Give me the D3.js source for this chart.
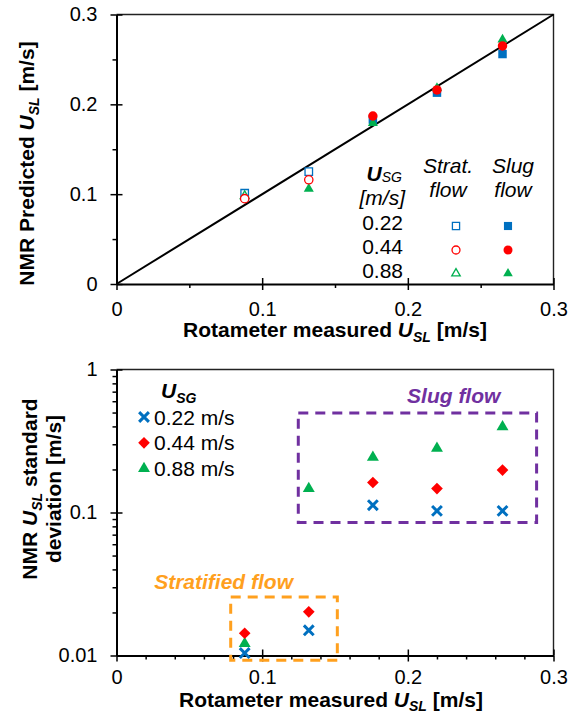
<!DOCTYPE html>
<html>
<head>
<meta charset="utf-8">
<script src="https://cdn.jsdelivr.net/npm/d3@7"></script>
<style>
body { margin: 0; background: #fff; }
text { font-family: "Liberation Sans", Arial, sans-serif; }
</style>
</head>
<body>
<script>

// rotameter measured U_SL [m/s]
var rotameter = [0.088, 0.132, 0.176, 0.22, 0.265];
var usgValues = ["0.22", "0.44", "0.88"];

// NMR predicted U_SL [m/s], one list per U_SG
var predicted022 = [0.101, 0.125, 0.183, 0.213, 0.256];
var predicted044 = [0.095, 0.116, 0.187, 0.216, 0.265];
var predicted088 = [0.098, 0.106, 0.179, 0.218, 0.272];

// flow regime of each point
var regime022 = ["strat", "strat", "slug", "slug", "slug"];
var regime044 = ["strat", "strat", "slug", "slug", "slug"];
var regime088 = ["strat", "slug", "slug", "slug", "slug"];

// NMR U_SL standard deviation [m/s]
var stdev022 = [0.0104, 0.0150, 0.1125, 0.1026, 0.1026];
var stdev044 = [0.0143, 0.0202, 0.162, 0.147, 0.198];
var stdev088 = [0.0121, 0.147, 0.243, 0.281, 0.397];

var xTicks = [0, 0.1, 0.2, 0.3];
var yTicksTop = [0, 0.1, 0.2, 0.3];
var yTicksLog = [0.01, 0.1, 1];

// regime boxes in data units: [x0, x1, yLow, yHigh]
var slugBox = [0.1248, 0.2884, 0.0851, 0.497];
var stratBox = [0.0784, 0.1516, 0.00927, 0.0257];


var width = 574;
var height = 714;

var svg = d3.select("body").append("svg")
			.attr("width", width)
			.attr("height", height);

var x = d3.scaleLinear().domain([0, 0.3]).range([116.5, 553.5]);
var yTop = d3.scaleLinear().domain([0, 0.3]).range([284, 14.5]);
var yBot = d3.scaleLog().domain([0.01, 1]).range([655.5, 369.5]);

var blue = "#0070C0", red = "#FF0000", green = "#00B050";
var purple = "#7030A0", orange = "#FFA01E";

var fmt = function(d){ return String(d); };

var styleAxis = function(g, size){
	g.attr("font-family", null).attr("font-size", null);
	g.select(".domain").attr("stroke", "#000").attr("stroke-width", 2);
	g.selectAll(".tick line").attr("stroke", "#000").attr("stroke-width", 1.5);
	g.selectAll("text").attr("fill", "#000").style("font-size", size + "px");
};

var noDomain = function(g){
	g.attr("font-family", null).attr("font-size", null);
	g.select(".domain").remove();
	g.selectAll(".tick line").attr("stroke", "#000").attr("stroke-width", 1.5);
};

var drawAxes = function(yScale, yMajor, yMinor, xMinor, xPad){
	var y0 = yScale.range()[0], y1 = yScale.range()[1];
	var x0 = x.range()[0], x1 = x.range()[1];

	// frame (top, right)
	svg.append("path")
		.attr("d", "M" + x0 + "," + y1 + "H" + x1 + "V" + y0)
		.attr("fill", "none").attr("stroke", "#222").attr("stroke-width", 1.4);

	svg.append("g").attr("transform", "translate(0," + y0 + ")")
		.call(d3.axisBottom(x).tickValues(xMinor).tickSize(4).tickFormat(""))
		.call(noDomain);
	svg.append("g").attr("transform", "translate(0," + y0 + ")")
		.call(d3.axisTop(x).tickValues(xTicks).tickSize(6).tickFormat(""))
		.call(noDomain);
	svg.append("g").attr("transform", "translate(0," + y0 + ")")
		.call(d3.axisBottom(x).tickValues(xTicks).tickSize(6).tickSizeOuter(0).tickPadding(xPad).tickFormat(fmt))
		.call(styleAxis, 20);

	svg.append("g").attr("transform", "translate(" + x0 + ",0)")
		.call(d3.axisLeft(yScale).tickValues(yMinor).tickSize(4).tickFormat(""))
		.call(noDomain);
	svg.append("g").attr("transform", "translate(" + x0 + ",0)")
		.call(d3.axisRight(yScale).tickValues(yMajor).tickSize(6).tickFormat(""))
		.call(noDomain);
	svg.append("g").attr("transform", "translate(" + x0 + ",0)")
		.call(d3.axisLeft(yScale).tickValues(yMajor).tickSize(6).tickSizeOuter(0).tickPadding(13).tickFormat(fmt))
		.call(styleAxis, 20);
};

// text with a subscript: parts = [[text, bold, italic, sub], ...]
var richText = function(parent, parts, size, anchor, shift){
	shift = shift || 5;
	var t = parent.append("text")
		.attr("text-anchor", anchor)
		.attr("fill", "#000")
		.style("font-size", size + "px");
	var shifted = false;
	parts.forEach(function(p){
		var s = t.append("tspan").text(p[0])
			.attr("font-weight", p[1] ? "bold" : "normal")
			.attr("font-style", p[2] ? "italic" : "normal");
		if (p[3]) {
			s.style("font-size", Math.round(size * 0.68) + "px").attr("dy", shifted ? 0 : shift);
			shifted = true;
		} else {
			if (shifted) s.attr("dy", -shift);
			shifted = false;
		}
	});
	return t;
};

var sym = function(type, size){
	return d3.symbol().type(type).size(size)();
};


// ---------- top chart ----------
var minorLin = [0.05, 0.15, 0.25];
drawAxes(yTop, yTicksTop, minorLin, minorLin, 12);

var identity = [0, 0.3];
svg.append("line")
	.attr("x1", x(identity[0])).attr("y1", yTop(identity[0]))
	.attr("x2", x(identity[1])).attr("y2", yTop(identity[1]))
	.attr("stroke", "#000").attr("stroke-width", 2);

var topSeries = [
	{ values: predicted022, regime: regime022, color: blue, type: d3.symbolSquare, size: 72 },
	{ values: predicted088, regime: regime088, color: green, type: d3.symbolTriangle, size: 44 },
	{ values: predicted044, regime: regime044, color: red, type: d3.symbolCircle, size: 70 }
];

topSeries.forEach(function(s){
	svg.append("g").selectAll("path").data(s.values)
		.enter()
		.append("path")
		.attr("d", function(d, i){ return sym(s.type, s.regime[i] == "slug" ? s.size : s.size * 0.78); })
		.attr("transform", function(d, i){ return "translate(" + x(rotameter[i]) + "," + yTop(d) + ")"; })
		.attr("fill", function(d, i){ return s.regime[i] == "slug" ? s.color : "#fff"; })
		.attr("stroke", function(d, i){ return s.regime[i] == "slug" ? "none" : s.color; })
		.attr("stroke-width", 1.3);
});

// top legend
var leg = svg.append("g");
richText(leg, [["U", true, true, false], ["SG", false, true, true]], 21, "end", 1)
	.attr("x", 402).attr("y", 181);
richText(leg, [["[m/s]", false, true, false]], 21, "end").attr("x", 405).attr("y", 205);
richText(leg, [["Strat.", false, true, false]], 21, "middle").attr("x", 448).attr("y", 173);
richText(leg, [["flow", false, true, false]], 21, "middle").attr("x", 448).attr("y", 197);
richText(leg, [["Slug", false, true, false]], 21, "middle").attr("x", 513).attr("y", 173);
richText(leg, [["flow", false, true, false]], 21, "middle").attr("x", 513).attr("y", 197);

var legRows = [
	{ color: blue, type: d3.symbolSquare, size: 66 },
	{ color: red, type: d3.symbolCircle, size: 64 },
	{ color: green, type: d3.symbolTriangle, size: 40 }
];
var legBase = [230, 254, 277.5];
legRows.forEach(function(r, i){
	richText(leg, [[usgValues[i], false, false, false]], 21, "end").attr("x", 403).attr("y", legBase[i]);
	leg.append("path").attr("d", sym(r.type, r.size * 0.78))
		.attr("transform", "translate(456," + (legBase[i] - 4) + ")")
		.attr("fill", "#fff").attr("stroke", r.color).attr("stroke-width", 1.3);
	leg.append("path").attr("d", sym(r.type, r.size))
		.attr("transform", "translate(508," + (legBase[i] - 4) + ")")
		.attr("fill", r.color);
});

// top axis titles
richText(svg, [["Rotameter measured ", true, false, false], ["U", true, true, false], ["SL", true, true, true], [" [m/s]", true, false, false]], 21, "middle")
	.attr("x", 335).attr("y", 337);
var ty = svg.append("g").attr("transform", "translate(33.5,163.5) rotate(-90)");
richText(ty, [["NMR Predicted ", true, false, false], ["U", true, true, false], ["SL", true, true, true], [" [m/s]", true, false, false]], 21, "middle")
	.attr("x", 0).attr("y", 0);


// ---------- bottom chart ----------
var minorX = d3.range(0.02, 0.3, 0.02).filter(function(v){ return Math.abs(v * 10 - Math.round(v * 10)) > 1e-6; });
var minorLog = [];
[0.01, 0.1].forEach(function(dec){
	for (var k = 2; k <= 9; k++) minorLog.push(k * dec);
});
drawAxes(yBot, yTicksLog, minorLog, minorX, 8);

// regime boxes and labels
var boxes = [
	{ b: slugBox, color: purple, label: "Slug flow", lx: 0.2315, ly: 0.584 },
	{ b: stratBox, color: orange, label: "Stratified flow", lx: 0.0735, ly: 0.029 }
];
boxes.forEach(function(o){
	svg.append("rect")
		.attr("x", x(o.b[0])).attr("y", yBot(o.b[3]))
		.attr("width", x(o.b[1]) - x(o.b[0]))
		.attr("height", yBot(o.b[2]) - yBot(o.b[3]))
		.attr("fill", "none").attr("stroke", o.color)
		.attr("stroke-width", 3).attr("stroke-dasharray", "10,7");
	svg.append("text")
		.attr("x", x(o.lx)).attr("y", yBot(o.ly))
		.attr("text-anchor", "middle")
		.attr("font-weight", "bold").attr("font-style", "italic")
		.attr("fill", o.color)
		.style("font-size", "21px")
		.text(o.label);
});

var botSeries = [
	{ values: stdev088, color: green, type: d3.symbolTriangle, size: 62, rot: 0, stroke: false },
	{ values: stdev044, color: red, type: d3.symbolSquare, size: 68, rot: 45, stroke: false },
	{ values: stdev022, color: blue, type: d3.symbolTimes, size: 64, rot: 0, stroke: true }
];

botSeries.forEach(function(s){
	svg.append("g").selectAll("path").data(s.values)
		.enter()
		.append("path")
		.attr("d", sym(s.type, s.size))
		.attr("transform", function(d, i){ return "translate(" + x(rotameter[i]) + "," + yBot(d) + ") rotate(" + s.rot + ")"; })
		.attr("fill", s.stroke ? "none" : s.color)
		.attr("stroke", s.stroke ? s.color : "none")
		.attr("stroke-width", 3);
});

// bottom legend
var leg2 = svg.append("g");
richText(leg2, [["U", true, true, false], ["SG", true, true, true]], 21, "start").attr("x", 161).attr("y", 398);
var leg2Rows = [botSeries[2], botSeries[1], botSeries[0]];
leg2Rows.forEach(function(s, i){
	var cy = 417 + i * 25.8;
	leg2.append("path").attr("d", sym(s.type, s.size))
		.attr("transform", "translate(144," + cy + ") rotate(" + s.rot + ")")
		.attr("fill", s.stroke ? "none" : s.color)
		.attr("stroke", s.stroke ? s.color : "none")
		.attr("stroke-width", 3);
	richText(leg2, [[usgValues[i] + " m/s", false, false, false]], 21, "start").attr("x", 154).attr("y", cy + 7.5);
});

// bottom axis titles
richText(svg, [["Rotameter measured ", true, false, false], ["U", true, true, false], ["SL", true, true, true], [" [m/s]", true, false, false]], 21, "middle", 4)
	.attr("x", 331).attr("y", 707);
var by = svg.append("g").attr("transform", "translate(37,489) rotate(-90)");
richText(by, [["NMR ", true, false, false], ["U", true, true, false], ["SL", true, true, true], [" standard", true, false, false]], 21, "middle")
	.attr("x", 0).attr("y", 0);
richText(by, [["deviation [m/s]", true, false, false]], 21, "middle")
	.attr("x", 0).attr("y", 23.5);

</script>
</body>
</html>
